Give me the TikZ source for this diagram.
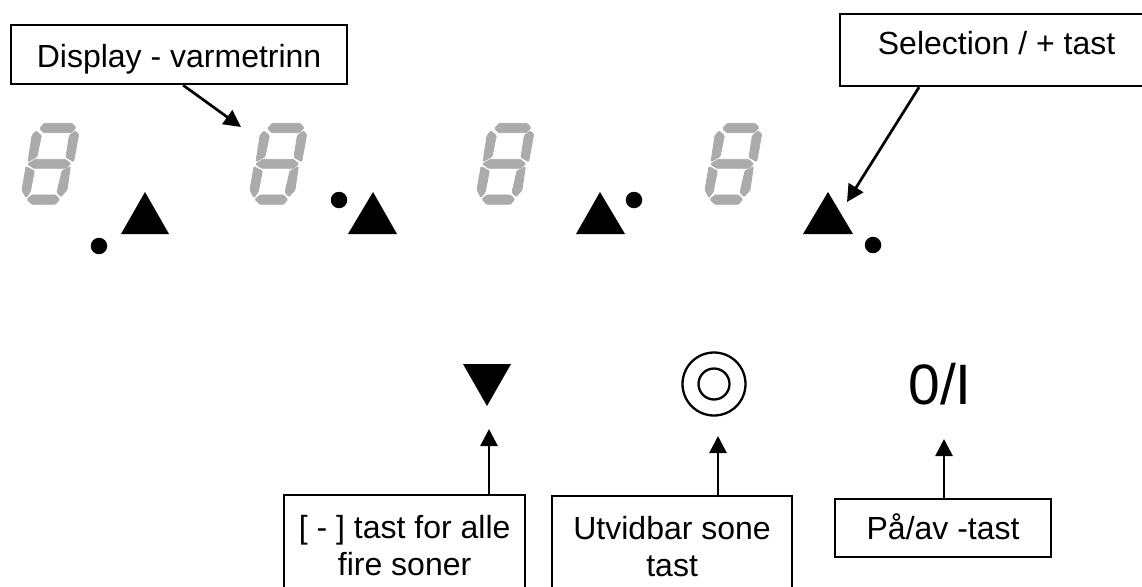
\documentclass[tikz,border=0pt]{standalone}
\usepackage{fontspec}
\setmainfont{Liberation Sans}
\usetikzlibrary{arrows.meta,calc}
\definecolor{seggray}{HTML}{ABABAB}
\tikzset{
  x=1pt,y=-1pt,
  lbl/.style={draw=black,line width=2.2pt,fill=white,inner sep=0pt,align=center,anchor=north west,font=\fontsize{32}{37}\selectfont},
  arr/.style={draw=black,line width=2.7pt,-{Triangle[length=17pt,width=17pt]}},
  tri/.style={fill=black,draw=none},
  seg/.style={fill=seggray,draw=seggray,line width=0.8pt,rounded corners=1pt},
  knob/.style={draw=black,line width=2.3pt,circle,inner sep=0pt},
  dot/.style={fill=black,circle,inner sep=0pt,minimum size=16.5pt}
}
\newcommand{\digitseven}[1]{%
  \begin{scope}[xshift=#1pt,x=0.3333pt,y=-0.3333pt]
    \filldraw[seg] (119,385)--(133,370)--(216,370)--(228,383)--(214,398)--(131,398)--cycle;
    \filldraw[seg] (83,492)--(106,478)--(196,478)--(212,492)--(196,505)--(101,505)--cycle;
    \filldraw[seg] (81,598)--(96,585)--(166,585)--(179,598)--(166,613)--(96,613)--cycle;
    \filldraw[seg] (108,393)--(124,407)--(111,470)--(84,485)--(96,407)--cycle;
    \filldraw[seg] (226,393)--(236,403)--(221,485)--(198,472)--(208,407)--cycle;
    \filldraw[seg] (78,500)--(103,513)--(91,575)--(78,593)--(66,570)--cycle;
    \filldraw[seg] (186,513)--(211,500)--(201,570)--(183,590)--(171,577)--cycle;
  \end{scope}}
\begin{document}
\begin{tikzpicture}
\path[use as bounding box,clip] (0,0) rectangle (1142,586);
\fill[white] (0,0) rectangle (1142,586);
% displays
\digitseven{0}\digitseven{228}\digitseven{455}\digitseven{683}
% triangles
\fill[tri] (145,192)--(169,234)--(121,234)--cycle;
\fill[tri] (373,192)--(397,234)--(348,234)--cycle;
\fill[tri] (600,192)--(625,234)--(576,234)--cycle;
\fill[tri] (828,192)--(853,234)--(803,234)--cycle;
\fill[tri] (463,364)--(511,364)--(487,406)--cycle;
% dots
\node[dot] (d1) at (99,246) {};
\node[dot] (d2) at (339,200) {};
\node[dot] (d3) at (634,200) {};
\node[dot] (d4) at (873,245) {};
% symbols
\node[knob,minimum size=63pt] (k1) at (714,384) {};
\node[knob,minimum size=31pt] (k2) at (714,384) {};
\node[inner sep=0pt,font=\fontsize{57}{57}\selectfont] (onoff) at (940,384) {0/I};
% boxes
\node[lbl,minimum width=336pt,minimum height=59pt,text height=26pt,text depth=0pt] (disp) at (10,24) {Display - varmetrinn};
\node[lbl,minimum width=313pt,minimum height=72pt,text height=20pt,text depth=12pt] (sel) at (839,13) {Selection / + tast};
\node[lbl,minimum width=241pt,minimum height=100pt] (minus) at (283,494) {[ - ] tast for alle\\fire soner};
\node[lbl,minimum width=240pt,minimum height=100pt] (util) at (551,495) {Utvidbar sone\\tast};
\node[lbl,minimum width=216pt,minimum height=58pt,text height=22pt,text depth=0pt] (paav) at (834,498) {På/av -tast};
% arrow targets
\coordinate (tdisp) at (241,127);
\coordinate (tsel) at (847,202);
\coordinate (tminus) at (489,429);
\coordinate (tutil) at (718,436);
\coordinate (tpaav) at (944,439);
% connectors
\draw[arr] ([xshift=4pt]disp.south) -- (tdisp);
\draw[arr] ([xshift=-77.5pt]sel.south) -- (tsel);
\draw[arr] (minus.north -| tminus) -- (tminus);
\draw[arr] (util.north -| tutil) -- (tutil);
\draw[arr] (paav.north -| tpaav) -- (tpaav);
\end{tikzpicture}
\end{document}
